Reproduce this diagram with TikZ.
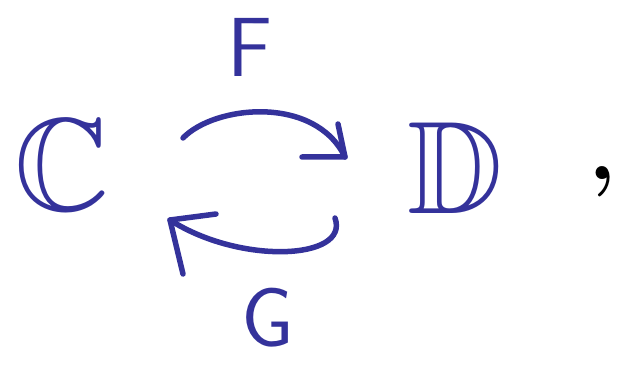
\documentclass[tikz,border=0pt]{standalone}
\usepackage{amssymb}
\definecolor{ink}{RGB}{52,50,155}
\tikzset{
  lbl/.style={text=ink, inner sep=0pt, font=\sffamily\fontsize{84}{84}\selectfont},
  bb/.style={text=ink, inner sep=0pt, font=\fontsize{132}{132}\selectfont},
  stroke/.style={draw=ink, line width=5.5pt, line cap=round, line join=round}
}
\begin{document}
\begin{tikzpicture}[x=1pt,y=-1pt]
\useasboundingbox (0,0) rectangle (632,366);
\node[bb] (C) at (62,165) {$\mathbb{C}$};
\node[bb] (D) at (455,168) {$\mathbb{D}$};
\node[lbl] (F) at (250,47) {F};
\node[lbl] (G) at (268,318) {G};
\node[text=black, inner sep=0pt, font=\bfseries\fontsize{90}{90}\selectfont] (comma) at (603,182) {,};
% top arrow
\coordinate (t0) at (183,138);
\coordinate (t1) at (345,157);
\coordinate (th1) at (302,157);
\coordinate (th2) at (338,124);
\draw[stroke] (t0) .. controls (215,105) and (315,95) .. (t1);
\draw[stroke] (th1) -- (t1) -- (th2);
% bottom arrow
\coordinate (b0) at (335,218);
\coordinate (b1) at (170,220);
\coordinate (bh1) at (216,214);
\coordinate (bh2) at (183,274);
\draw[stroke] (b0) .. controls (350,260) and (240,265) .. (b1);
\draw[stroke] (bh1) -- (b1) -- (bh2);
\end{tikzpicture}
\end{document}
